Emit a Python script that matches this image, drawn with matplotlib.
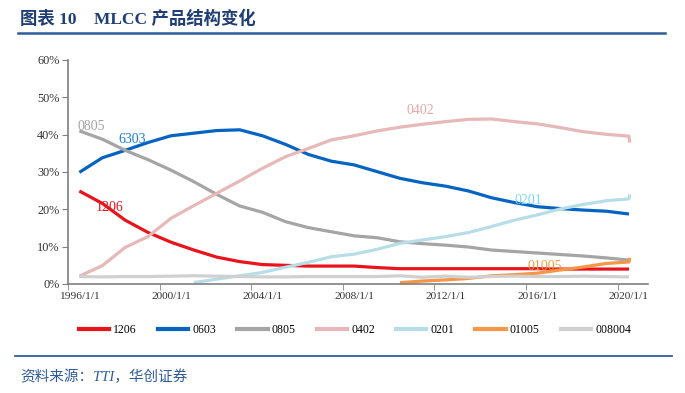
import numpy as np
import matplotlib
matplotlib.use("Agg")
import matplotlib.pyplot as plt
from matplotlib.lines import Line2D

plt.rcParams['font.family'] = ['Liberation Serif', 'Noto Sans CJK SC', 'DejaVu Sans']

# data (share in %), one value per year 1996..2020
years = list(range(1996, 2021))
nan = np.nan
s1206 = [24.9, 21.6, 17.1, 13.8, 11.2, 9.1, 7.2, 6.0, 5.2, 5.0, 4.8, 4.8, 4.8,
         4.4, 4.1, 4.1, 4.1, 4.1, 4.1, 4.1, 4.1, 4.0, 4.0, 4.0, 4.0]
s0603 = [29.9, 33.8, 35.8, 37.9, 39.7, 40.4, 41.1, 41.3, 39.7, 37.4, 34.7, 32.9,
         31.9, 30.1, 28.3, 27.1, 26.2, 24.9, 23.1, 21.8, 20.7, 20.2, 19.8, 19.5, 18.75]
s0805 = [41.0, 38.8, 35.8, 33.3, 30.5, 27.4, 24.0, 20.9, 19.2, 16.7, 15.1, 14.0,
         12.9, 12.4, 11.3, 10.8, 10.4, 9.9, 9.1, 8.7, 8.3, 7.9, 7.5, 7.0, 6.4]
s0402 = [2.1, 4.9, 9.8, 12.7, 17.6, 21.0, 24.3, 27.6, 31.0, 34.1, 36.3, 38.6,
         39.7, 41.0, 42.0, 42.8, 43.5, 44.1, 44.2, 43.5, 42.9, 41.9, 40.8, 40.1, 39.6]
s0201 = [nan] * 5 + [0.4, 1.3, 2.2, 3.1, 4.5, 5.8, 7.3, 8.0, 9.3, 10.9, 11.8,
                     12.7, 13.8, 15.4, 17.1, 18.5, 20.1, 21.3, 22.3, 22.8]
s01005 = [nan] * 14 + [0.35, 0.8, 1.1, 1.5, 2.2, 2.5, 2.9, 3.75, 4.55, 5.5, 5.9]
s008004 = [2.0, 1.9, 2.0, 2.0, 2.1, 2.2, 2.1, 2.0, 1.9, 1.9, 2.0, 2.0, 2.0,
           2.0, 2.2, 1.8, 2.1, 1.8, 2.0, 2.1, 2.0, 2.0, 2.1, 2.0, 1.9]

# small jump right at the end of some series (latest reading)
last_jump = {'0402': 37.9, '0201': 24.0, '01005': 7.0}

names = ['1206', '0603', '0805', '0402', '0201', '01005', '008004']
series = [s1206, s0603, s0805, s0402, s0201, s01005, s008004]
colors = ['#E8131B', '#0563C1', '#A5A5A5', '#E6B9B8', '#B7DEE8', '#F79646', '#D0D0D0']

# in-plot labels: text, year position, value, colour
labels = [('0805', 1996.5, 42.1, '#A5A5A5'),
          ('6303', 1998.3, 38.6, '#1A7FD4'),
          ('1206', 1997.3, 20.6, '#E8131B'),
          ('0402', 2010.9, 46.5, '#E6A7A6'),
          ('0201', 2015.6, 22.4, '#7FD8EE'),
          ('01005', 2016.3, 4.7, '#F0A040')]

fig = plt.figure(figsize=(6.85, 3.93), dpi=100)
W, H = 685, 393
ax = fig.add_axes([67.9 / W, 1 - 284 / H, (648 - 67.9) / W, (284 - 60) / H])

x = np.array(years)
for name, ys, c in zip(names, series, colors):
    xs, vs = list(x), list(ys)
    if name in last_jump:
        xs.append(x[-1] + 0.03)
        vs.append(last_jump[name])
    ax.plot(xs, vs, color=c, lw=2.3, label=name, solid_capstyle='butt')

for t, xx, yy, c in labels:
    ax.text(xx, yy, t, color=c, fontsize=10, ha='center', va='center')

ax.set_xlim(1995.5, 2020.83)
ax.set_ylim(0, 60)
ax.set_yticks(range(0, 61, 10))
ax.set_yticklabels([f'{v}%' for v in range(0, 61, 10)], fontsize=8.8, color='#333333')
ax.set_xticks(range(1996, 2021, 4))
ax.set_xticklabels([f'{y}/1/1' for y in range(1996, 2021, 4)], fontsize=8.2, color='#333333')
ax.tick_params(axis='x', length=0, pad=6)
ax.set_xticks(np.arange(1995.5, 2021, 4), minor=True)
ax.tick_params(axis='x', which='minor', length=4, direction='out', color='#7F7F7F')
ax.tick_params(axis='y', length=4, direction='out', color='#7F7F7F', pad=2)
for s in ['top', 'right']:
    ax.spines[s].set_visible(False)
for s in ['left', 'bottom']:
    ax.spines[s].set_color('#7F7F7F')
    ax.spines[s].set_linewidth(1.2)

handles = [Line2D([], [], color=c, lw=3) for c in colors]
fig.legend(handles, names, loc='center', bbox_to_anchor=(355 / W, 1 - 330 / H),
           ncol=7, frameon=False, fontsize=8.5, handlelength=2.55,
           handletextpad=0.35, columnspacing=1.8)

# title and footer
fig.text(20 / W, 1 - 19 / H, '图表 10    MLCC 产品结构变化', fontsize=12.5,
         fontweight='bold', color='#1F3F74', va='center', ha='left')
fig.add_artist(Line2D([18 / W, 665 / W], [1 - 33 / H] * 2, color='#2E5B9A', lw=1.8))
fig.add_artist(Line2D([15 / W, 672 / W], [1 - 356 / H] * 2, color='#2E5B9A', lw=1.3))
fig.text(20 / W, 1 - 377 / H, '资料来源：TTI，华创证券', fontsize=10.5, style='italic',
         color='#2E5B9A', va='center', ha='left')

fig.savefig('out.png', dpi=100)
